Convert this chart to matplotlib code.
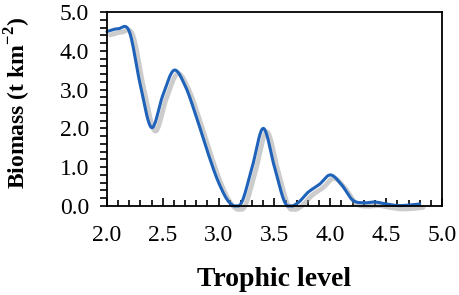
import numpy as np
import matplotlib
matplotlib.use("Agg")
import matplotlib.pyplot as plt
import matplotlib.patheffects as pe
from matplotlib.ticker import MultipleLocator, FormatStrFormatter

trophic_level = [2.0, 2.1, 2.2, 2.3, 2.4, 2.5, 2.6, 2.7, 2.8, 2.9, 3.0, 3.1, 3.2,
                 3.3, 3.4, 3.5, 3.6, 3.7, 3.8, 3.9, 4.0, 4.1, 4.2, 4.3, 4.4, 4.5,
                 4.6, 4.7, 4.8]
biomass = [4.50, 4.57, 4.50, 3.10, 2.02, 2.85, 3.50, 3.10, 2.30, 1.40, 0.60, 0.08, 0.06,
           1.00, 2.00, 1.00, 0.05, 0.06, 0.35, 0.55, 0.80, 0.55, 0.15, 0.08, 0.10, 0.05,
           0.01, 0.02, 0.05]


def catmull_rom(x, y, n=20):
    x = np.asarray(x, float)
    y = np.asarray(y, float)
    px = np.concatenate([[2 * x[0] - x[1]], x, [2 * x[-1] - x[-2]]])
    py = np.concatenate([[2 * y[0] - y[1]], y, [2 * y[-1] - y[-2]]])
    xs, ys = [], []
    t = np.linspace(0, 1, n, endpoint=False)
    for i in range(1, len(px) - 2):
        p0, p1, p2, p3 = (np.array([px[j], py[j]]) for j in range(i - 1, i + 3))
        c = 0.5 * (2 * p1[:, None] + (-p0 + p2)[:, None] * t
                   + (2 * p0 - 5 * p1 + 4 * p2 - p3)[:, None] * t ** 2
                   + (-p0 + 3 * p1 - 3 * p2 + p3)[:, None] * t ** 3)
        xs.extend(c[0]); ys.extend(c[1])
    xs.append(x[-1]); ys.append(y[-1])
    return np.array(xs), np.array(ys)


plt.rcParams['font.family'] = ['Liberation Serif', 'DejaVu Serif']
plt.rcParams['mathtext.fontset'] = 'custom'
plt.rcParams['mathtext.rm'] = 'Liberation Serif'
plt.rcParams['mathtext.bf'] = 'Liberation Serif:bold'

fig = plt.figure(figsize=(4.59, 2.95), dpi=100)
ax = fig.add_axes([0.233, 0.302, 0.730, 0.657])

sx, sy = catmull_rom(trophic_level, biomass)
sy = np.clip(sy, 0, None)
ax.plot(sx, sy, color='#1E63B9', lw=2.2, solid_capstyle='round', clip_on=False,
        path_effects=[pe.SimpleLineShadow(offset=(2.5, -2.5), shadow_color='#9a9a9a', alpha=0.5, linewidth=3.4),
                      pe.Normal()])

ax.set_xlim(2.0, 5.0)
ax.set_ylim(0.0, 5.0)
ax.xaxis.set_major_locator(MultipleLocator(0.5))
ax.xaxis.set_minor_locator(MultipleLocator(0.1))
ax.yaxis.set_major_locator(MultipleLocator(1.0))
ax.yaxis.set_minor_locator(MultipleLocator(0.2))
ax.xaxis.set_major_formatter(FormatStrFormatter('%.1f'))
ax.yaxis.set_major_formatter(FormatStrFormatter('%.1f'))

ax.tick_params(axis='x', which='major', direction='in', length=6, width=1.2, pad=14, labelsize=17)
ax.tick_params(axis='x', which='minor', direction='in', length=4, width=1.2)
ax.tick_params(axis='y', which='major', direction='out', length=5, width=1.2, pad=8, labelsize=17)
ax.tick_params(axis='y', which='minor', direction='out', length=5, width=1.2)
for s in ax.spines.values():
    s.set_linewidth(1.3)

ax.set_xlabel('Trophic level', fontsize=20, fontweight='bold', labelpad=15)
ax.set_ylabel(r'Biomass (t km$^{\mathbf{-2}}$)', fontsize=17, fontweight='bold')
ax.yaxis.set_label_coords(-0.222, 0.53)

fig.savefig('out.png', dpi=100)
